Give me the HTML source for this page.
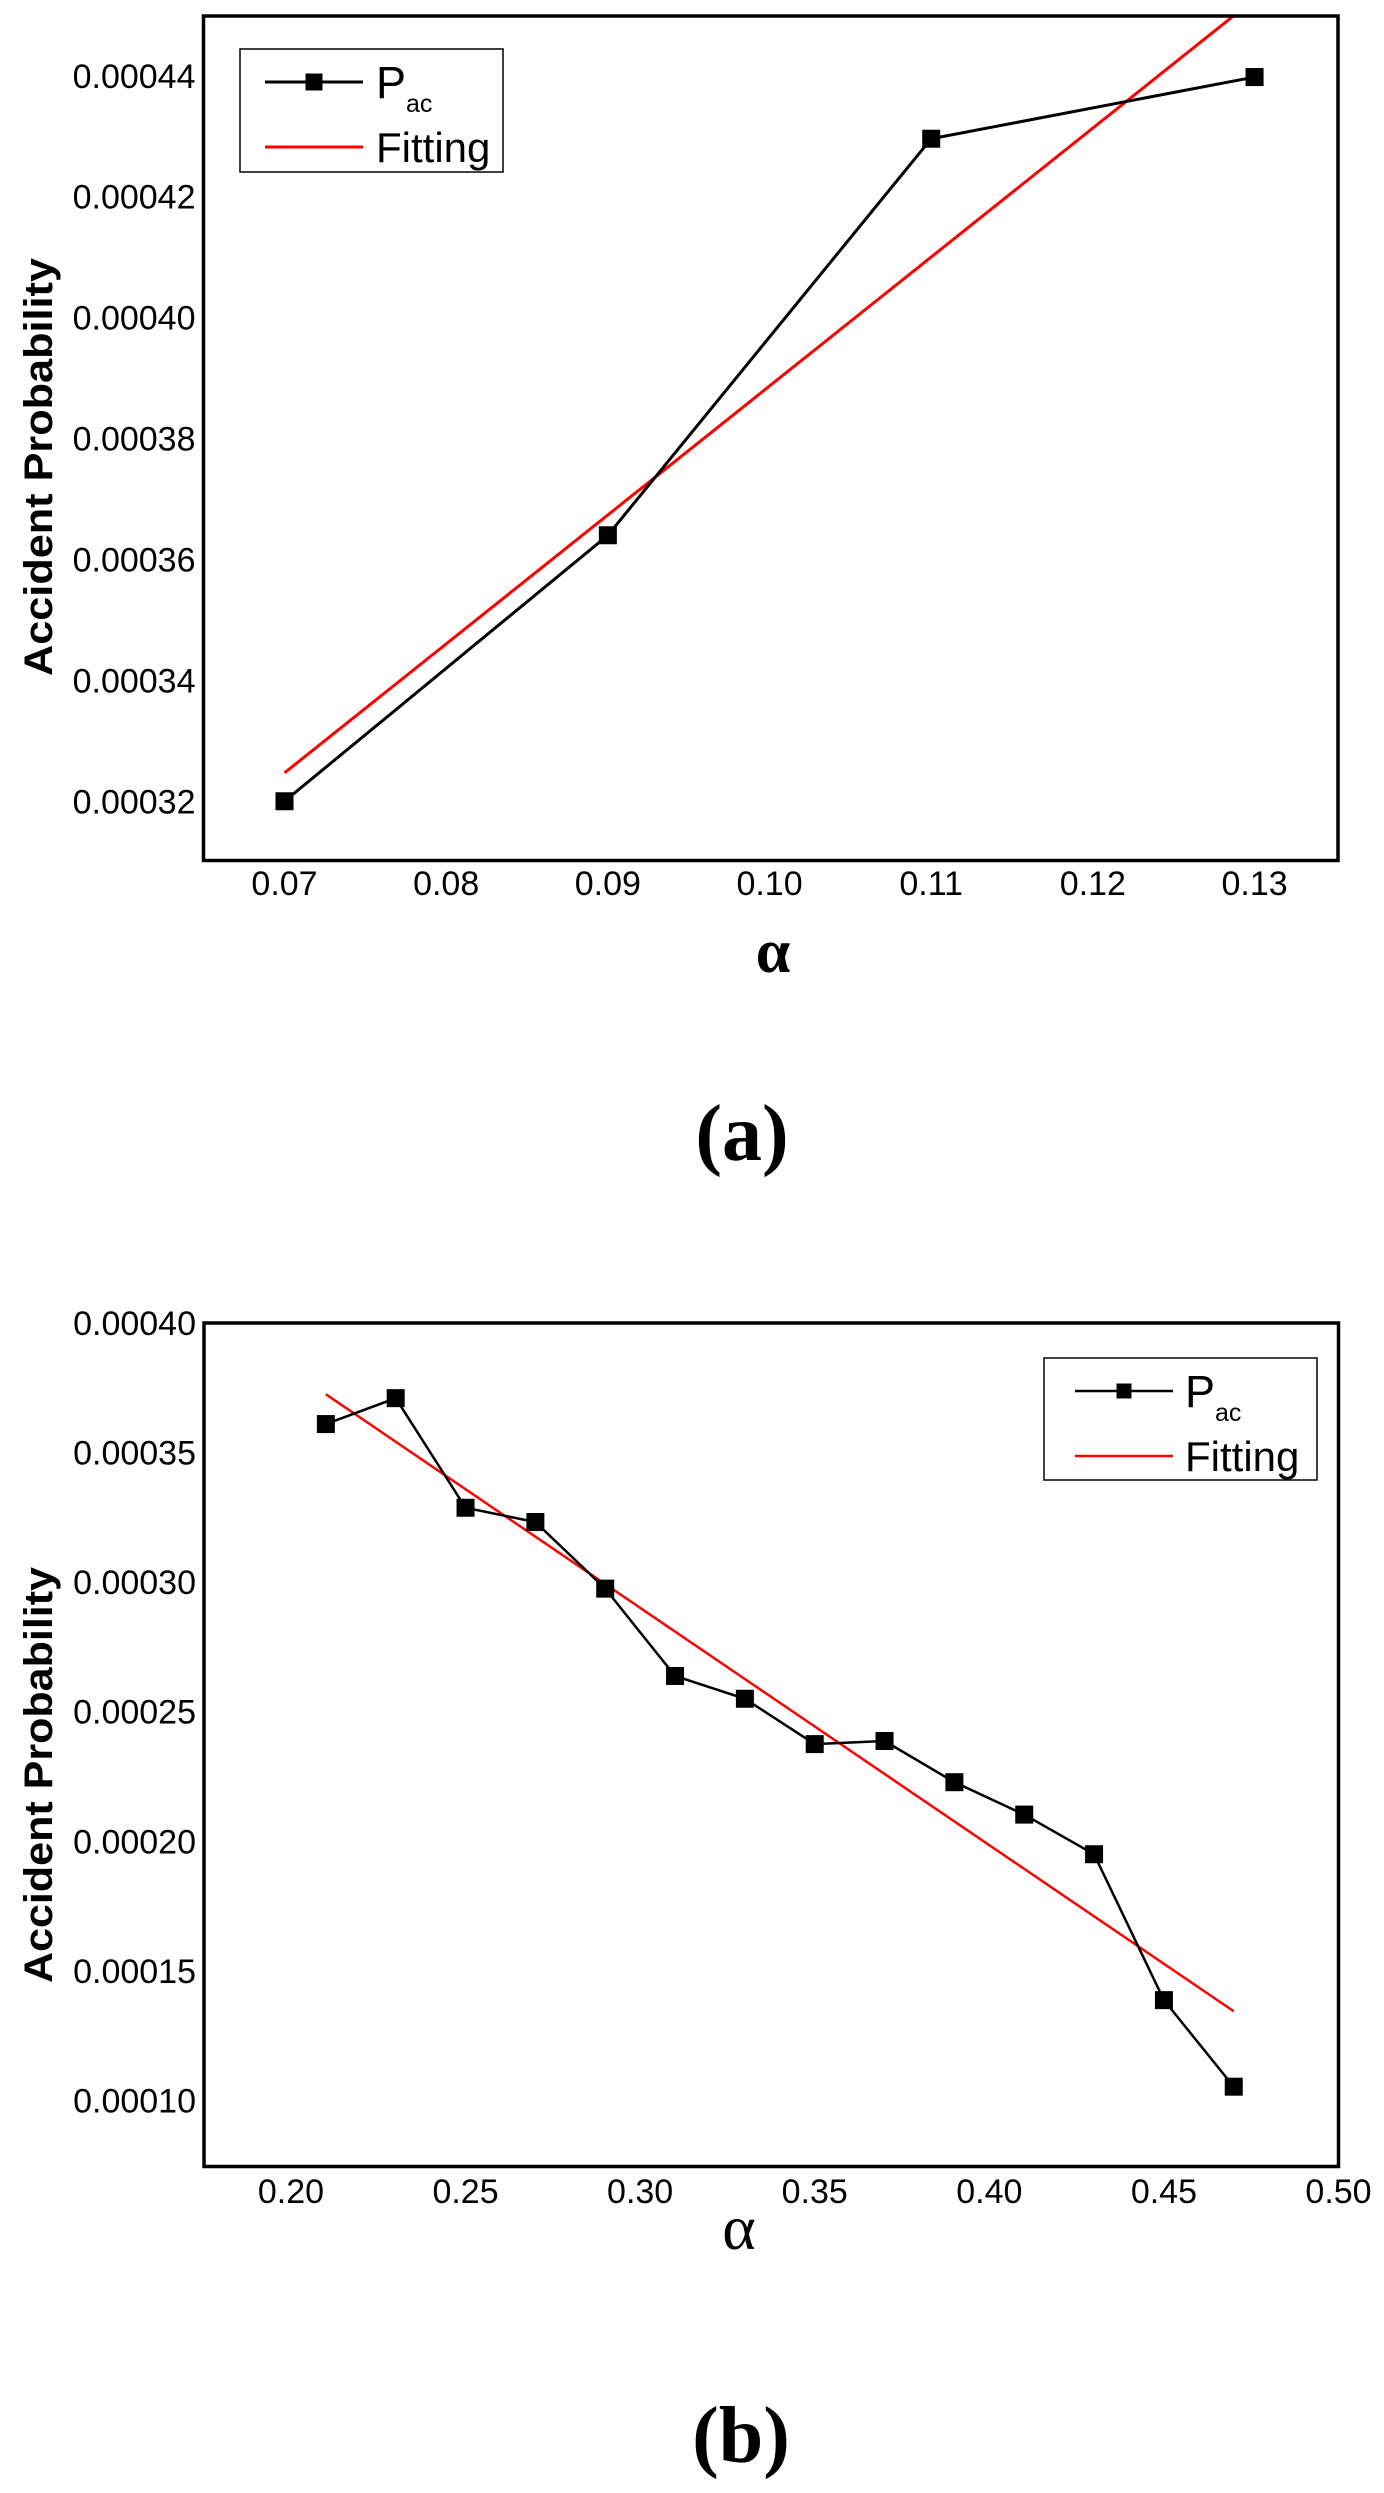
<!DOCTYPE html>
<html><head><meta charset="utf-8">
<style>
html,body{margin:0;padding:0;background:#fff;}
svg{display:block;}
.tick{font-family:"Liberation Sans",sans-serif;font-size:34px;fill:#000;}
.ytitle{font-family:"Liberation Sans",sans-serif;font-size:40px;font-weight:bold;fill:#000;}
.leg{font-family:"Liberation Sans",sans-serif;fill:#000;}
.serif{font-family:"Liberation Serif",serif;fill:#000;}
</style></head>
<body>
<svg id="svg" width="1384" height="2493" viewBox="0 0 1384 2493" xmlns="http://www.w3.org/2000/svg">
<g id="chartA"></g>
<g id="chartB"></g>
<text class="serif" x="742" y="1160" font-size="80" font-weight="bold" text-anchor="middle">(a)</text>
<text class="serif" x="741" y="2462" font-size="80" font-weight="bold" text-anchor="middle">(b)</text>
</svg>
<script>
// Chart A data
const aX = [0.07, 0.09, 0.11, 0.13];
const aY = [0.000320, 0.000364, 0.0004296, 0.0004398];
const aFitX = [0.07, 0.13];
const aFitY = [0.0003247, 0.0004527];
const aXTicks = [0.07, 0.08, 0.09, 0.10, 0.11, 0.12, 0.13];
const aXTickLabels = ["0.07","0.08","0.09","0.10","0.11","0.12","0.13"];
const aYTicks = [0.00032, 0.00034, 0.00036, 0.00038, 0.00040, 0.00042, 0.00044];
const aYTickLabels = ["0.00032","0.00034","0.00036","0.00038","0.00040","0.00042","0.00044"];
// Chart B data
const bX = [0.21,0.23,0.25,0.27,0.29,0.31,0.33,0.35,0.37,0.39,0.41,0.43,0.45,0.47];
const bY = [0.000361,0.000371,0.0003287,0.0003232,0.0002975,0.0002638,0.000255,0.0002375,0.0002387,0.0002228,0.0002103,0.000195,0.0001387,0.0001053];
const bFitX = [0.21, 0.47];
const bFitY = [0.0003725, 0.0001344];
const bXTicks = [0.20,0.25,0.30,0.35,0.40,0.45,0.50];
const bXTickLabels = ["0.20","0.25","0.30","0.35","0.40","0.45","0.50"];
const bYTicks = [0.00010,0.00015,0.00020,0.00025,0.00030,0.00035,0.00040];
const bYTickLabels = ["0.00010","0.00015","0.00020","0.00025","0.00030","0.00035","0.00040"];

const NS="http://www.w3.org/2000/svg";
function mk(parent,tag,attrs,text){
  const e=document.createElementNS(NS,tag);
  for(const k in attrs) e.setAttribute(k,attrs[k]);
  if(text!==undefined) e.textContent=text;
  parent.appendChild(e); return e;
}

function drawChart(g, cfg){
  const {L,R,T,B,xmin,xmax,ymin,ymax} = cfg;
  const sx = v => L + (v-xmin)/(xmax-xmin)*(R-L);
  const sy = v => B - (v-ymin)/(ymax-ymin)*(B-T);
  const clipId = cfg.id+"clip";
  const defs = mk(g,"defs",{});
  const cp = mk(defs,"clipPath",{id:clipId});
  mk(cp,"rect",{x:L,y:T,width:R-L,height:B-T});
  // fit line
  const fit = mk(g,"line",{x1:sx(cfg.fitX[0]),y1:sy(cfg.fitY[0]),x2:sx(cfg.fitX[1]),y2:sy(cfg.fitY[1]),stroke:"#ff0000","stroke-width":cfg.lw,"clip-path":"url(#"+clipId+")"});
  
  
  // data line
  const pts = cfg.x.map((v,i)=>sx(v)+","+sy(cfg.y[i])).join(" ");
  const pl = mk(g,"polyline",{points:pts,fill:"none",stroke:"#000","stroke-width":cfg.lw});
  
  
  cfg.x.forEach((v,i)=>{
    const m = mk(g,"rect",{x:sx(v)-cfg.ms/2,y:sy(cfg.y[i])-cfg.ms/2,width:cfg.ms,height:cfg.ms,fill:"#000"});
    
    
  });
  // frame
  const fr = mk(g,"rect",{x:L,y:T,width:R-L,height:B-T,fill:"none",stroke:"#000","stroke-width":3.5});
  
  
  // ticks labels
  cfg.xt.forEach((v,i)=>{
    const t = mk(g,"text",{class:"tick",x:sx(v),y:cfg.xLabelY,"text-anchor":"middle"},cfg.xtl[i]);
    
    
  });
  cfg.yt.forEach((v,i)=>{
    const t = mk(g,"text",{class:"tick",x:L-8,y:sy(v)+12,"text-anchor":"end"},cfg.ytl[i]);
    
    
  });
  // y title
  const yt = mk(g,"text",{class:"ytitle",x:0,y:0,"text-anchor":"middle",textLength:cfg.ytLen,lengthAdjust:"spacingAndGlyphs",transform:"translate(52,"+cfg.ytY+") rotate(-90)"},"Accident Probability");
  
  
  // x title
  const xt = mk(g,"text",{class:"serif",x:cfg.alphaX,y:cfg.alphaY,"font-size":cfg.alphaSize,"font-weight":cfg.alphaWeight,"text-anchor":"middle"},"α");
  
  
  // legend
  const lg = cfg.leg;
  const lgG = mk(g,"g",{});
  
  
  mk(lgG,"rect",{x:lg.x,y:lg.y,width:lg.w,height:lg.h,fill:"#fff",stroke:"#000","stroke-width":1.5});
  const e1 = mk(lgG,"g",{});
  
  
  mk(e1,"line",{x1:lg.lx1,y1:lg.y1,x2:lg.lx2,y2:lg.y1,stroke:"#000","stroke-width":cfg.lw});
  const mc=(lg.lx1+lg.lx2)/2;
  mk(e1,"rect",{x:mc-lg.ms/2,y:lg.y1-lg.ms/2,width:lg.ms,height:lg.ms,fill:"#000"});
  const pt = mk(e1,"text",{class:"leg",x:lg.tx,y:lg.y1+16,"font-size":45},"P");
  mk(pt,"tspan",{"font-size":25,dy:14},"ac");
  const e2 = mk(lgG,"g",{});
  
  
  mk(e2,"line",{x1:lg.lx1,y1:lg.y2,x2:lg.lx2,y2:lg.y2,stroke:"#ff0000","stroke-width":cfg.lw});
  mk(e2,"text",{class:"leg",x:lg.tx,y:lg.y2+15,"font-size":42},"Fitting");
}

drawChart(document.getElementById("chartA"),{
  id:"a",L:203.5,R:1338,T:16,B:860.5,xmin:0.06499,xmax:0.13516,ymin:0.0003102,ymax:0.0004499,
  x:aX,y:aY,fitX:aFitX,fitY:aFitY,xt:aXTicks,xtl:aXTickLabels,yt:aYTicks,ytl:aYTickLabels,
  lw:3,ms:18,xLabelY:895,ytLen:418,ytY:467,alphaX:773,alphaY:972,alphaSize:62,alphaWeight:"bold",
  leg:{x:240,y:49,w:263,h:123,lx1:265,lx2:363,y1:82,y2:147,tx:376,ms:17}
});
drawChart(document.getElementById("chartB"),{
  id:"b",L:204,R:1338.5,T:1323,B:2166.5,xmin:0.1751,xmax:0.5,ymin:0.0000745,ymax:0.000400,
  x:bX,y:bY,fitX:bFitX,fitY:bFitY,xt:bXTicks,xtl:bXTickLabels,yt:bYTicks,ytl:bYTickLabels,
  lw:2.5,ms:18,xLabelY:2203,ytLen:416,ytY:1775,alphaX:739,alphaY:2249,alphaSize:64,alphaWeight:"normal",
  leg:{x:1044,y:1358,w:273,h:122,lx1:1075,lx2:1173,y1:1391,y2:1456,tx:1185,ms:15}
});
</script>
</body></html>
